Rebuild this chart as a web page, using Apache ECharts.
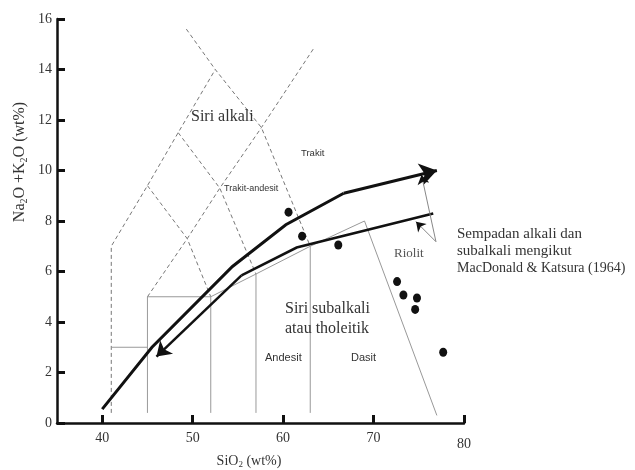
<!DOCTYPE html>
<html><head><meta charset="utf-8">
<script src="https://cdn.jsdelivr.net/npm/echarts@6/dist/echarts.min.js"></script>
<style>html,body{margin:0;padding:0;background:#fff}#c{width:635px;height:470px}</style>
</head><body><div id="c"></div>
<script>
// ---- axis ticks ----
const xTicks = [40, 50, 60, 70, 80];
const yTicks = [0, 2, 4, 6, 8, 10, 12, 14, 16];

// ---- TAS field boundaries: dashed (alkali fields) ----
const dashedA = [[41, 0.4], [41, 7], [45, 9.4], [48.4, 11.5], [52.5, 14]];
const dashedB = [[49.3, 15.6], [52.5, 14], [57.6, 11.7], [63, 7]];
const dashedC = [[45, 5], [49.4, 7.3], [53, 9.3], [57.6, 11.7], [63.5, 14.9]];
const dashedD = [[45, 9.4], [49.4, 7.3], [52, 5]];
const dashedE = [[48.4, 11.5], [53, 9.3], [57, 5.9]];

// ---- TAS field boundaries: solid (subalkali fields) ----
const solid1 = [[41, 3], [45, 3]];
const solid2 = [[45, 0.4], [45, 5], [52, 5], [52, 0.4]];
const solid3 = [[52, 5], [57, 5.9], [63, 7], [69, 8], [77, 0.3]];
const solid4 = [[57, 5.9], [57, 0.4]];
const solid5 = [[63, 7], [63, 0.4]];

// ---- alkali / subalkali boundaries (MacDonald & Katsura) ----
const upperBoundary = [[40, 0.55], [45.5, 3.0], [54.4, 6.2], [60.3, 7.85], [66.7, 9.1], [77.0, 10.0]];
const lowerBoundary = [[76.6, 8.3], [61.5, 6.95], [55.4, 5.85], [46.0, 2.63]];

// ---- annotation pointers (origin, near-tip, tip) ----
const pointerA = [[76.9, 7.18], [75.46, 9.56], [75.3, 9.82]];
const pointerB = [[76.9, 7.18], [74.92, 7.89], [74.7, 7.97]];

// ---- samples (SiO2, Na2O+K2O) ----
const samples = [[60.6, 8.35], [62.1, 7.4], [66.1, 7.05], [72.6, 5.6], [73.3, 5.07], [74.8, 4.95], [74.6, 4.5], [77.7, 2.8]];

const SERIF = '"Liberation Serif", "Times New Roman", serif';
const SANS = '"Liberation Sans", Arial, sans-serif';

function polyLines(list, style, z) {
  return {
    type: 'lines', coordinateSystem: 'cartesian2d', polyline: true, silent: true,
    symbol: 'none',
    lineStyle: Object.assign({ opacity: 1 }, style),
    data: list.map(c => ({ coords: c })),
    z: z || 2
  };
}
function arrowSeg(segs, color, width, size, z) {
  return {
    type: 'lines', coordinateSystem: 'cartesian2d', polyline: false, silent: true,
    symbol: ['none', 'arrow'], symbolSize: size,
    lineStyle: { color: color, width: width, opacity: 1 },
    data: segs.map(c => ({ coords: c })),
    z: z || 5
  };
}
const lastSeg = a => [a[a.length - 2], a[a.length - 1]];

const chart = echarts.init(document.getElementById('c'), null, { renderer: 'canvas' });

function txt(x, y, text, size, family, color) {
  return {
    type: 'text', x: x, y: y, z: 10,
    style: { text: text, font: size + 'px ' + family, fill: color || '#333', align: 'left', verticalAlign: 'middle' }
  };
}

chart.setOption({
  animation: false,
  backgroundColor: '#fff',
  grid: { left: 57, right: 171, top: 19, bottom: 47 },
  xAxis: {
    type: 'value', min: 35, max: 80,
    axisLine: { show: true, lineStyle: { color: '#111', width: 2.5 } },
    axisTick: { show: true, inside: true, length: 8, lineStyle: { color: '#111', width: 3 }, customValues: xTicks },
    axisLabel: {
      customValues: xTicks, margin: 8, color: '#333', fontFamily: SERIF, fontSize: 14,
      formatter: v => v === 80 ? '{low|80}' : String(v),
      rich: { low: { fontFamily: SERIF, fontSize: 14, color: '#333', padding: [6, 0, 0, 0] } }
    },
    splitLine: { show: false }
  },
  yAxis: {
    type: 'value', min: 0, max: 16, interval: 2,
    axisLine: { show: true, lineStyle: { color: '#111', width: 2.5 } },
    axisTick: { show: true, inside: true, length: 8, lineStyle: { color: '#111', width: 3 } },
    axisLabel: { margin: 5, color: '#333', fontFamily: SERIF, fontSize: 14 },
    splitLine: { show: false }
  },
  series: [
    polyLines([dashedA, dashedB, dashedC, dashedD, dashedE], { color: '#777', width: 1, type: [4, 3] }),
    polyLines([solid1, solid2, solid3, solid4, solid5], { color: '#999', width: 1 }),
    polyLines([upperBoundary.slice(0, -1)], { color: '#111', width: 3 }, 4),
    polyLines([lowerBoundary.slice(0, -1)], { color: '#111', width: 2.5 }, 4),
    arrowSeg([lastSeg(upperBoundary)], '#111', 3, [16, 17], 4),
    arrowSeg([lastSeg(lowerBoundary)], '#111', 2.5, [13, 14], 4),
    polyLines([pointerA.slice(0, 2), pointerB.slice(0, 2)], { color: '#888', width: 1 }, 5),
    arrowSeg([pointerA.slice(1), pointerB.slice(1)], '#111', 1, [8, 9], 5),
    {
      type: 'scatter', data: samples, symbol: 'circle', symbolSize: [8, 9],
      itemStyle: { color: '#111', opacity: 1 }, z: 6
    }
  ],
  graphic: [
    txt(191, 117, 'Siri alkali', 16, SERIF, '#333'),
    txt(301, 153, 'Trakit', 9.5, SANS, '#333'),
    txt(224, 189, 'Trakit-andesit', 9, SANS, '#333'),
    txt(394, 254, 'Riolit', 13, SERIF, '#555'),
    txt(285, 309, 'Siri subalkali', 16, SERIF, '#333'),
    txt(285, 329, 'atau tholeitik', 16, SERIF, '#333'),
    txt(265, 358, 'Andesit', 11, SANS, '#333'),
    txt(351, 358, 'Dasit', 11, SANS, '#333'),
    txt(457, 234, 'Sempadan alkali dan', 15, SERIF, '#333'),
    txt(457, 251, 'subalkali mengikut', 15, SERIF, '#333'),
    txt(457, 268, 'MacDonald & Katsura (1964)', 14, SERIF, '#333'),
    {
      type: 'text', x: 249, y: 461, z: 10,
      style: {
        text: 'SiO{s|2} (wt%)', font: '14px ' + SERIF, fill: '#333', align: 'center', verticalAlign: 'middle',
        lineHeight: 16,
        rich: { s: { fontSize: 9, fontFamily: SERIF, fill: '#333', verticalAlign: 'bottom', lineHeight: 9 } }
      }
    },
    {
      type: 'text', x: 20, y: 162, rotation: Math.PI / 2, z: 10,
      style: {
        text: 'Na{s|2}O +K{s|2}O (wt%)', font: '16px ' + SERIF, fill: '#333', align: 'center', verticalAlign: 'middle',
        lineHeight: 18,
        rich: { s: { fontSize: 10, fontFamily: SERIF, fill: '#333', verticalAlign: 'bottom', lineHeight: 10 } }
      }
    }
  ]
});
</script>
</body></html>
